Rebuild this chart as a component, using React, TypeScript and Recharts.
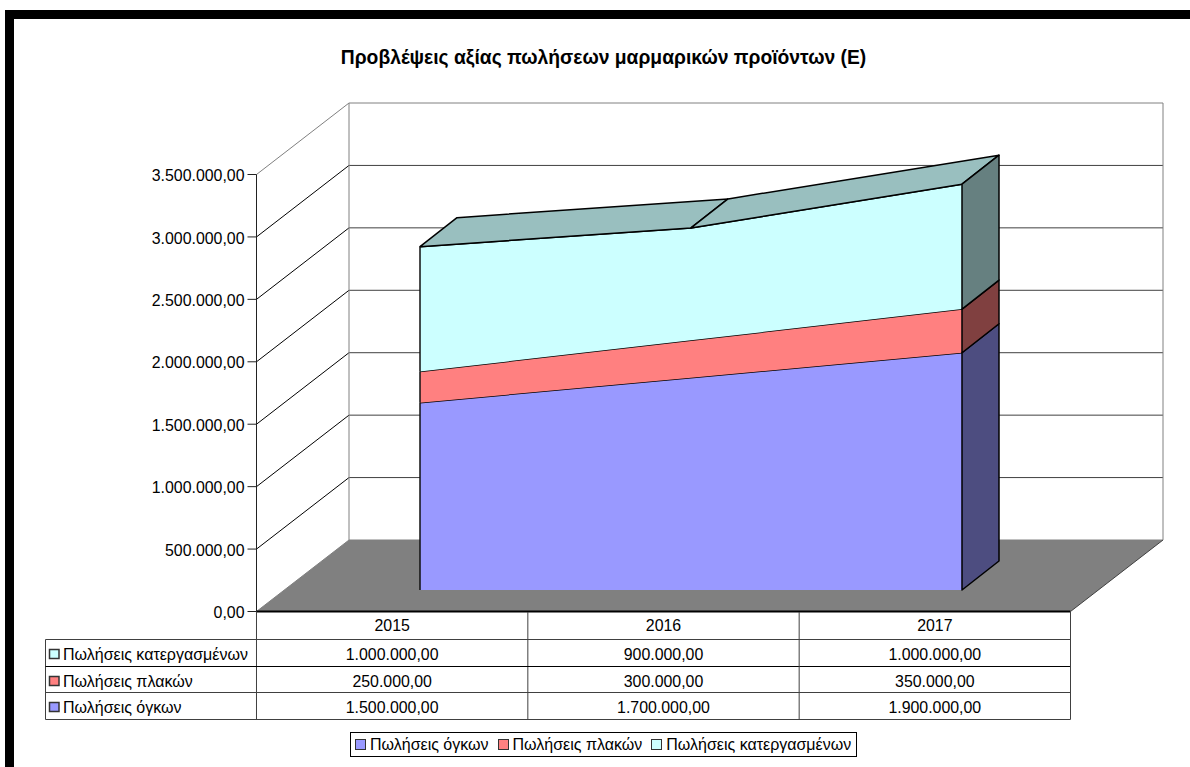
import React from 'react';
import { ComposedChart, Area, XAxis, YAxis, CartesianGrid, Legend } from 'recharts';

// ---- values ----
const years = ['2015', '2016', '2017'];
const ogkon = [1500000, 1700000, 1900000];
const plakon = [250000, 300000, 350000];
const katergasmenon = [1000000, 900000, 1000000];
const yTicks = [0, 500000, 1000000, 1500000, 2000000, 2500000, 3000000, 3500000];

const NAME_OGKON = 'Πωλήσεις όγκων';
const NAME_PLAKON = 'Πωλήσεις πλακών';
const NAME_KATERG = 'Πωλήσεις κατεργασμένων';
const TITLE = 'Προβλέψεις αξίας πωλήσεων μαρμαρικών προϊόντων (Ε)';

const rows = [
  { name: NAME_KATERG, values: katergasmenon, fill: '#CCFFFF', side: '#668080', top: '#99BFBF' },
  { name: NAME_PLAKON, values: plakon, fill: '#FF8080', side: '#804040', top: '#BF6060' },
  { name: NAME_OGKON, values: ogkon, fill: '#9999FF', side: '#4D4D80', top: '#7373BF' },
];
const [rowK, rowP, rowO] = rows;

const data = years.map((year, i) => ({
  year,
  ogkon: ogkon[i],
  plakon: plakon[i],
  katergasmenon: katergasmenon[i],
}));

const fmt = (v: number) =>
  Number(v).toFixed(2).replace('.', ',').replace(/\B(?=(\d{3})+(?!\d))/g, '.');

// ---- layout ----
const W = 1190;
const H = 767;
const FONT = '"Liberation Sans", Arial, sans-serif';
const FS = 15.9;
const FS_NAME = 16;
const WALL_DX = 92.5;
const WALL_DY = -71.5;
const AREA_DX = 37;
const AREA_DY = -29;
const TABLE_LEFT = 45.5;
const ROW_LINES = [639.5, 666.5, 692.5, 719.5];
const ROW_TEXT = [625.5, 654, 681, 707];
const LINE = '#404040';
const EDGE = 1.5;

// walls and floor, hung on the horizontal grid lines of the value axis
const wallLine = (p: any) => {
  const { x1, x2, y1, y, height, key } = p;
  const bx1 = x1 + WALL_DX;
  const bx2 = x2 + WALL_DX;
  const by = y1 + WALL_DY;
  if (Math.abs(y1 - (y + height)) < 0.01) {
    return (
      <g key={key}>
        <polygon points={`${x1},${y1} ${bx1},${by} ${bx2},${by} ${x2},${y1}`} fill="#808080" stroke="none" />
        <line x1={x1} y1={y1} x2={bx1} y2={by} stroke="#808080" />
        <line x1={bx1} y1={by} x2={bx2} y2={by} stroke="#808080" />
        <line x1={x2} y1={y1} x2={bx2} y2={by} stroke={LINE} />
      </g>
    );
  }
  if (Math.abs(y1 - y) < 0.01) {
    const bottom = y + height + WALL_DY;
    return (
      <g key={key}>
        <line x1={x1} y1={y1} x2={bx1} y2={by} stroke="#808080" />
        <line x1={bx1} y1={by} x2={bx2} y2={by} stroke="#808080" />
        <line x1={bx1} y1={by} x2={bx1} y2={bottom} stroke="#808080" />
        <line x1={bx2} y1={by} x2={bx2} y2={bottom} stroke="#808080" />
      </g>
    );
  }
  return (
    <g key={key}>
      <line x1={x1} y1={y1} x2={bx1} y2={by} stroke="#000" />
      <line x1={bx1} y1={by} x2={bx2} y2={by} stroke={LINE} />
    </g>
  );
};

const Swatch = ({ x, y, fill }: { x: number; y: number; fill: string }) => (
  <rect x={x} y={y} width={9.5} height={9} fill={fill} stroke="#333" strokeWidth={1.5} />
);

// the data table, drawn from the category axis ticks
const tableTick = (p: any) => {
  const { x, index, payload } = p;
  const half = 135.67;
  const txt = { fontFamily: FONT, fontSize: FS, fill: '#000', textAnchor: 'middle' as const, dominantBaseline: 'central' as const };
  return (
    <g key={`cell-${index}`}>
      <text x={x} y={ROW_TEXT[0]} {...txt}>{payload.value}</text>
      {rows.map((r, ri) => (
        <text key={r.name} x={x} y={ROW_TEXT[ri + 1]} {...txt}>{fmt(r.values[index])}</text>
      ))}
      <line x1={x + half} y1={612} x2={x + half} y2={ROW_LINES[3]} stroke={LINE} />
      {index === 0 && (
        <g>
          <line x1={x - half} y1={612} x2={x - half} y2={ROW_LINES[3]} stroke={LINE} />
          <line x1={TABLE_LEFT} y1={ROW_LINES[0]} x2={TABLE_LEFT} y2={ROW_LINES[3]} stroke={LINE} />
          {ROW_LINES.map((ly, li) => (
            <line key={li} x1={TABLE_LEFT} y1={ly} x2={x - half + 271.33 * 3} y2={ly} stroke={li === 1 ? '#000' : LINE} />
          ))}
          {rows.map((r, ri) => (
            <g key={r.name}>
              <Swatch x={49.5} y={ROW_TEXT[ri + 1] - 4.5} fill={r.fill} />
              <text x={63} y={ROW_TEXT[ri + 1]} fontFamily={FONT} fontSize={FS_NAME} fill="#000" dominantBaseline="central">
                {r.name}
              </text>
            </g>
          ))}
        </g>
      )}
    </g>
  );
};

// depth faces of one stacked band, worked out from the points the Area received
const depthDot = (row: typeof rowO, withTop: boolean) => (p: any) => {
  const { cx, cy, index, points } = p;
  const key = `${row.name}-${index}`;
  if (!points || points.length < 3) return <g key={key} />;
  const first = points[0];
  const last = points[points.length - 1];
  const perUnit = (first.y - last.y) / (last.value[1] - first.value[1]);
  const val = points[index].value;
  const lowY = cy + (val[1] - val[0]) * perUnit;
  const isLast = index === points.length - 1;
  const next = points[index + 1];
  return (
    <g key={key}>
      {withTop && next && (
        <polygon
          points={`${cx},${cy} ${next.x},${next.y} ${next.x + AREA_DX},${next.y + AREA_DY} ${cx + AREA_DX},${cy + AREA_DY}`}
          fill={row.top}
          stroke="#000"
          strokeWidth={EDGE}
          strokeLinejoin="round"
        />
      )}
      {isLast && (
        <polygon
          points={`${cx},${cy} ${cx + AREA_DX},${cy + AREA_DY} ${cx + AREA_DX},${lowY + AREA_DY} ${cx},${lowY}`}
          fill={row.side}
          stroke="#000"
          strokeWidth={EDGE}
          strokeLinejoin="round"
        />
      )}
      {index === 0 && <line x1={cx} y1={cy} x2={cx} y2={lowY} stroke="#111" strokeWidth={EDGE} />}
    </g>
  );
};

const legendOrder = ['ogkon', 'plakon', 'katergasmenon'];
const legendColors: Record<string, string> = {
  ogkon: rowO.fill,
  plakon: rowP.fill,
  katergasmenon: rowK.fill,
};

const LegendBox = (props: any) => (
  <div
    style={{
      boxSizing: 'border-box',
      width: 507,
      height: 25,
      border: '1px solid #000',
      background: '#fff',
      display: 'flex',
      alignItems: 'center',
      paddingLeft: 4,
      fontFamily: FONT,
      fontSize: FS_NAME,
      color: '#000',
      whiteSpace: 'nowrap',
    }}
  >
    {[...(props.payload || [])]
      .sort((a: any, b: any) => legendOrder.indexOf(a.dataKey) - legendOrder.indexOf(b.dataKey))
      .map((e: any) => (
        <span key={e.dataKey} style={{ display: 'inline-flex', alignItems: 'center', marginRight: 9 }}>
          <span
            style={{
              boxSizing: 'border-box',
              display: 'inline-block',
              width: 11,
              height: 11,
              marginRight: 4,
              border: '1.5px solid #333',
              background: legendColors[e.dataKey],
            }}
          />
          {e.value}
        </span>
      ))}
  </div>
);

const layer: React.CSSProperties = { position: 'absolute', left: 0, top: 0 };

export default function App() {
  return (
    <div style={{ position: 'absolute', left: 0, top: 0, width: W, height: H, overflow: 'hidden', background: '#fff' }}>
      <div
        style={{
          position: 'absolute',
          left: 5,
          top: 10,
          width: W,
          height: H,
          boxSizing: 'border-box',
          borderLeft: '9px solid #000',
          borderTop: '9px solid #000',
        }}
      />
      <div
        style={{
          position: 'absolute',
          left: 0,
          width: 1207,
          top: 48,
          textAlign: 'center',
          fontFamily: FONT,
          fontSize: 19.3,
          fontWeight: 700,
          lineHeight: '20px',
          color: '#000',
        }}
      >
        {TITLE}
      </div>

      {/* front wall frame: value axis, walls, floor, table */}
      <div style={layer}>
        <ComposedChart width={W} height={H} data={data} margin={{ left: 0.5, right: 119.5, top: 174.5, bottom: 0 }}>
          <CartesianGrid horizontal={wallLine as any} vertical={false} syncWithTicks />
          <XAxis
            dataKey="year"
            scale="band"
            height={155.5}
            interval={0}
            tickLine={false}
            axisLine={{ stroke: '#000', strokeWidth: 2 }}
            tick={tableTick as any}
          />
          <YAxis
            width={256}
            domain={[0, 3500000]}
            ticks={yTicks}
            interval={0}
            tickFormatter={fmt}
            tickSize={9}
            tickMargin={3}
            tickLine={{ stroke: '#222' }}
            axisLine={{ stroke: '#222' }}
            tick={{ fontFamily: FONT, fontSize: FS, fill: '#000', dy: 1 } as any}
          />
          <Area dataKey="ogkon" fill="none" stroke="none" isAnimationActive={false} activeDot={false} legendType="none" />
        </ComposedChart>
      </div>

      {/* the stacked areas stand part way into the depth of the floor */}
      <div style={layer}>
        <ComposedChart width={W} height={H} data={data} margin={{ left: 284.5, right: 92.5, top: 153, bottom: 177 }}>
          <XAxis dataKey="year" scale="band" hide />
          <YAxis hide domain={[0, 3500000]} />
          <Area
            dataKey="ogkon"
            name={NAME_OGKON}
            stackId="s"
            type="linear"
            fill={rowO.fill}
            fillOpacity={1}
            stroke="#000"
            strokeWidth={EDGE}
            isAnimationActive={false}
            activeDot={false}
            dot={depthDot(rowO, false) as any}
          />
          <Area
            dataKey="plakon"
            name={NAME_PLAKON}
            stackId="s"
            type="linear"
            fill={rowP.fill}
            fillOpacity={1}
            stroke="#000"
            strokeWidth={EDGE}
            isAnimationActive={false}
            activeDot={false}
            dot={depthDot(rowP, false) as any}
          />
          <Area
            dataKey="katergasmenon"
            name={NAME_KATERG}
            stackId="s"
            type="linear"
            fill={rowK.fill}
            fillOpacity={1}
            stroke="#000"
            strokeWidth={EDGE}
            isAnimationActive={false}
            activeDot={false}
            dot={depthDot(rowK, true) as any}
          />
          <Legend
            layout="horizontal"
            verticalAlign="middle"
            align="center"
            content={LegendBox as any}
            wrapperStyle={{ left: 350, top: 732, width: 507, height: 25 }}
          />
        </ComposedChart>
      </div>
    </div>
  );
}
